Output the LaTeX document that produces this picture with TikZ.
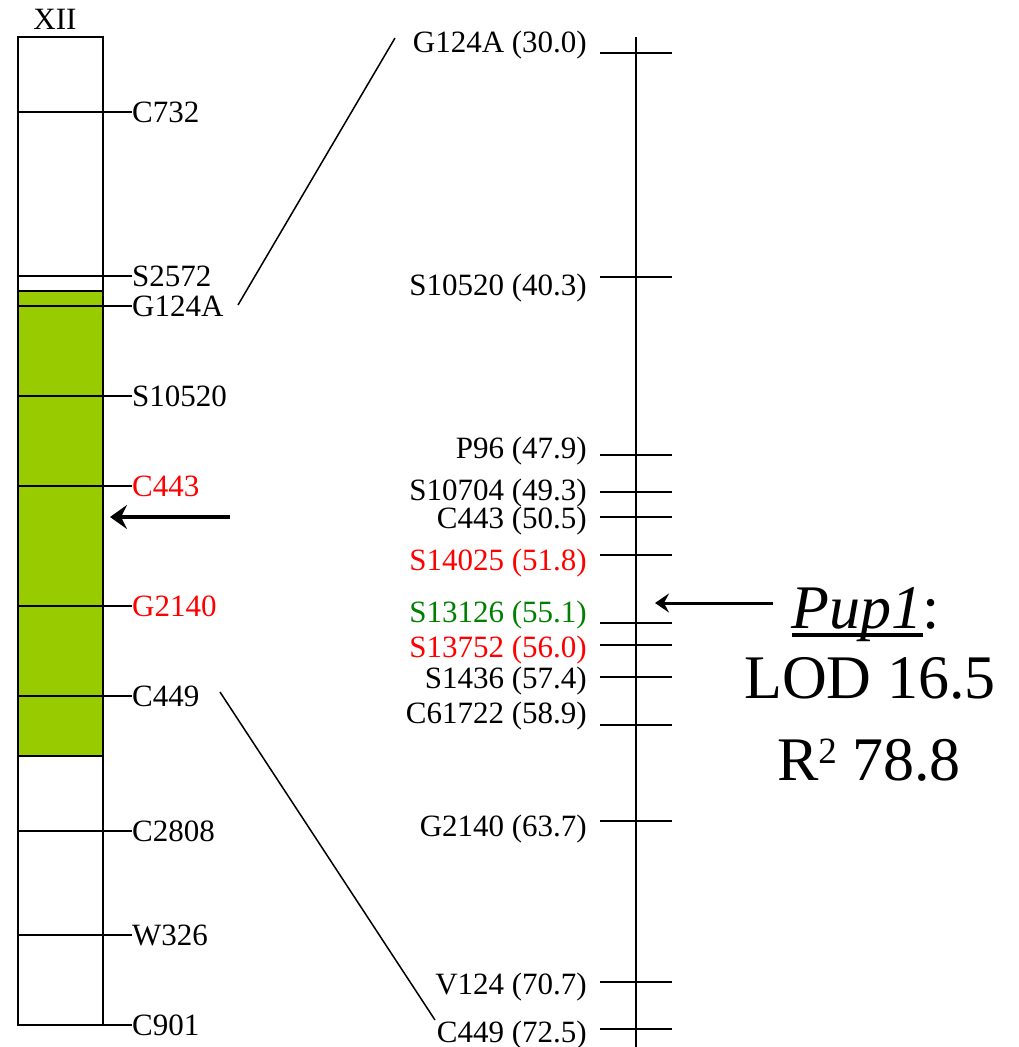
\documentclass[tikz,border=0pt]{standalone}
\usepackage{fontspec}
\setmainfont{Liberation Serif}
\usepackage{xcolor}
\usetikzlibrary{arrows.meta, positioning, calc}
\definecolor{PupGreen}{RGB}{153, 204, 0}
\definecolor{MarkGreen}{RGB}{0, 128, 0}
\definecolor{MarkRed}{RGB}{255, 0, 0}
\newcommand{\thickul}[1]{\setbox0=\hbox{#1}\rlap{\rule[-9pt]{\wd0}{4pt}}\box0}

\begin{document}
\begin{tikzpicture}[
  x=1pt, y=-1pt,
  lbl/.style={inner sep=0pt, text height=20pt, text depth=0pt,
              font=\fontsize{31}{31}\selectfont},
  mk/.style={line width=2pt},
  tk/.style={line width=2.8pt},
  zm/.style={line width=1.5pt},
  big/.style={inner sep=0pt, anchor=base, font=\fontsize{62}{62}\selectfont\rmfamily},
  qtlarrow/.style={line width=4pt, -{Stealth[length=17pt, width=24pt, inset=6pt]}}
]
  \useasboundingbox (0,0) rectangle (1018,1047);

  % ---- chromosome XII (left) ----
  \node[lbl, anchor=center] (chr) at (55,19) {XII};
  \fill[PupGreen] (18,291) rectangle (103,756);
  \draw[mk] (18,37) rectangle (103,1025);
  \draw[mk] (18,291) -- (103,291);
  \draw[mk] (18,756) -- (103,756);
  \foreach \y/\lab/\col in {112/C732/black, 276/S2572/black, 306/G124A/black,
      396/S10520/black, 486/C443/MarkRed, 606/G2140/MarkRed, 696/C449/black,
      831/C2808/black, 935/W326/black, 1025/C901/black} {
    \coordinate (b\lab) at (18,\y);
    \node[lbl, anchor=west, text=\col] (l\lab) at (132,\y) {\lab};
    \draw[mk] (b\lab) -- (l\lab.west);
  }
  \coordinate (qtlA) at (230,517);
  \coordinate (qtlB) at (110,517);
  \draw[qtlarrow] (qtlA) -- (qtlB);

  % ---- linkage map (right) ----
  \coordinate (axTop) at (636,37);
  \coordinate (axBot) at (636,1047);
  \draw[tk] (axTop) -- (axBot);
  \foreach \ty/\ly/\lab/\pos/\col in {53/42/G124A/30.0/black,
      277/285/S10520/40.3/black, 455/448/P96/47.9/black,
      492/490/S10704/49.3/black, 517/518/C443/50.5/black,
      555/560/S14025/51.8/MarkRed, 623/612/S13126/55.1/MarkGreen,
      645/647/S13752/56.0/MarkRed, 677/678/S1436/57.4/black,
      725/713/C61722/58.9/black, 821/826/G2140/63.7/black,
      982/984/V124/70.7/black, 1029/1032/C449/72.5/black} {
    \coordinate (t\lab a) at (600,\ty);
    \coordinate (t\lab b) at (672,\ty);
    \draw[tk] (t\lab a) -- (t\lab b);
    \node[lbl, anchor=east, text=\col] (r\lab) at (587,\ly) {\lab{} (\pos)};
  }

  % ---- zoom lines ----
  \coordinate (zA1) at (238,305);
  \coordinate (zA2) at (395,38);
  \coordinate (zB1) at (220,692);
  \coordinate (zB2) at (435,1020);
  \draw[zm] (zA1) -- (zA2);
  \draw[zm] (zB1) -- (zB2);

  % ---- QTL label ----
  \node[big] (pup) at (866,628) {\thickul{\textit{Pup1}}:};
  \node[big] (lod) at (870,698) {LOD 16.5};
  \node[big] (rsq) at (869,780) {R\raisebox{17pt}{\fontsize{37}{37}\selectfont 2} 78.8};
  \coordinate (pupA) at (773,603);
  \coordinate (pupB) at (655,603);
  \draw[line width=3pt, -{Stealth[length=14pt, width=19pt, inset=5pt]}] (pupA) -- (pupB);
\end{tikzpicture}
\end{document}
